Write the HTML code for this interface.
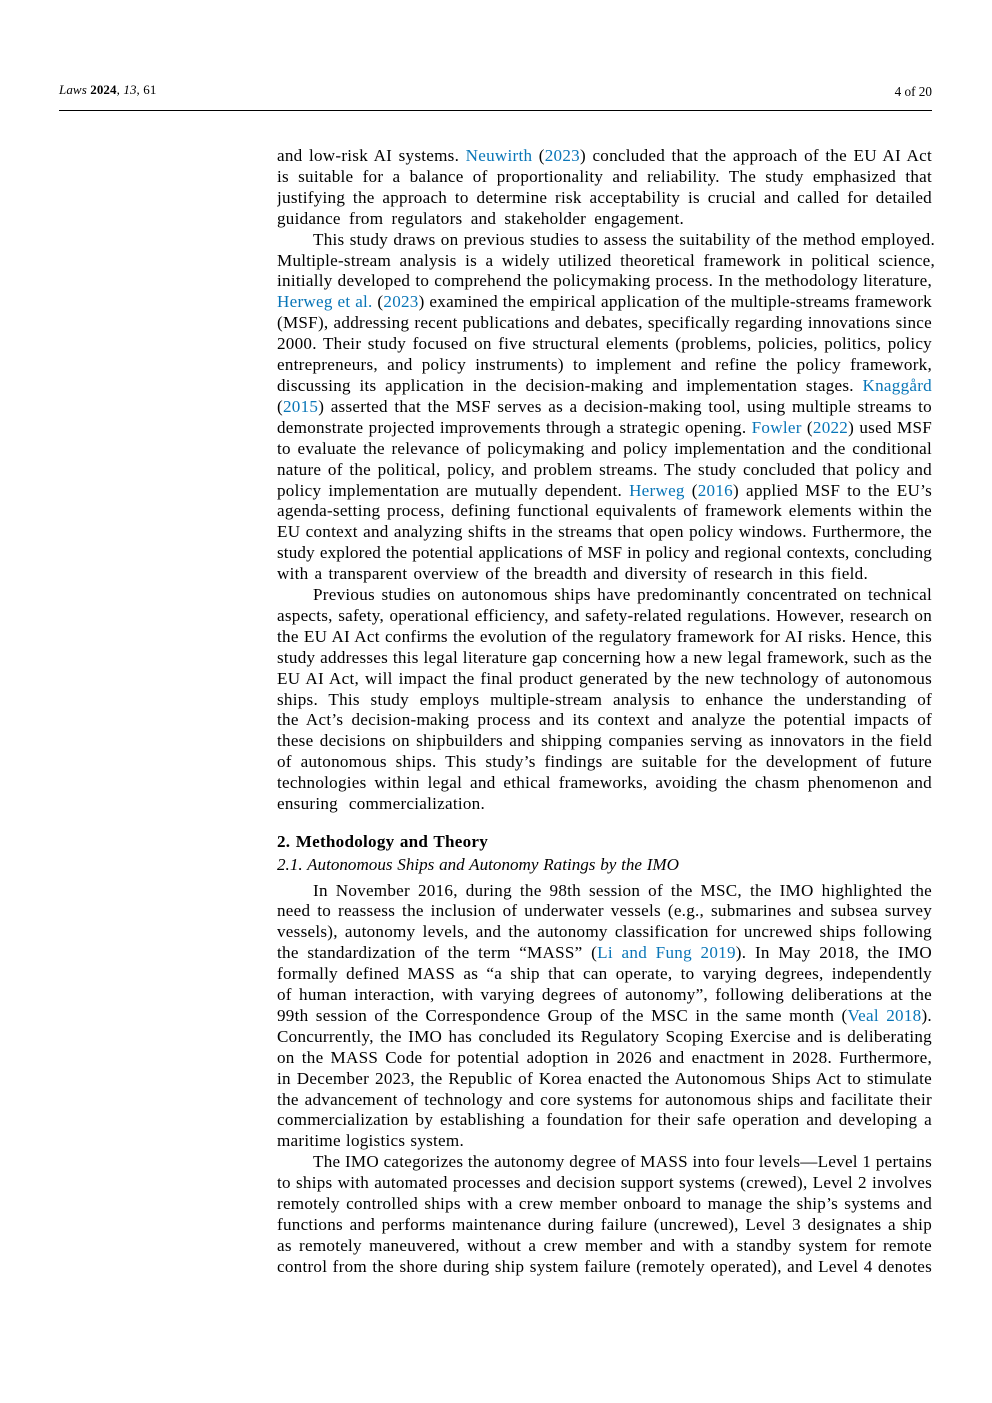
<!DOCTYPE html>
<html><head><meta charset="utf-8"><style>
html,body{margin:0;padding:0;background:#fff}
#p{position:relative;width:992px;height:1403px;overflow:hidden;font-family:"Liberation Serif",serif;color:#000}
.a{position:absolute;white-space:nowrap}
.b{position:absolute;left:277px;width:655px;font-size:17.1px;letter-spacing:.26px}
.b div{height:20.92px;line-height:20.92px;text-align:justify;text-align-last:justify;overflow:hidden}
.i{padding-left:36px}
a{color:#0875b7;text-decoration:none}
</style></head><body><div id="p">
<div class="a" style="left:59px;top:83px;font-size:13px;line-height:14px;letter-spacing:.1px"><i>Laws</i> <b>2024</b><i>, 13</i>, 61</div>
<div class="a" style="right:60px;top:85px;font-size:13.2px;line-height:14px">4 of 20</div>
<div class="a" style="left:59px;top:110px;width:873px;height:1px;background:#000"></div>
<div class="b" style="top:146px">
<div>and low-risk AI systems. <a>Neuwirth</a> (<a>2023</a>) concluded that the approach of the EU AI Act</div>
<div>is suitable for a balance of proportionality and reliability. The study emphasized that</div>
<div>justifying the approach to determine risk acceptability is crucial and called for detailed</div>
<div style="width:407px">guidance from regulators and stakeholder engagement.</div>
<div class="i" style="width:622px">This study draws on previous studies to assess the suitability of the method employed.</div>
<div style="width:658px">Multiple-stream analysis is a widely utilized theoretical framework in political science,</div>
<div>initially developed to comprehend the policymaking process. In the methodology literature,</div>
<div><a>Herweg et al.</a> (<a>2023</a>) examined the empirical application of the multiple-streams framework</div>
<div>(MSF), addressing recent publications and debates, specifically regarding innovations since</div>
<div>2000. Their study focused on five structural elements (problems, policies, politics, policy</div>
<div>entrepreneurs, and policy instruments) to implement and refine the policy framework,</div>
<div>discussing its application in the decision-making and implementation stages. <a>Knaggård</a></div>
<div>(<a>2015</a>) asserted that the MSF serves as a decision-making tool, using multiple streams to</div>
<div>demonstrate projected improvements through a strategic opening. <a>Fowler</a> (<a>2022</a>) used MSF</div>
<div>to evaluate the relevance of policymaking and policy implementation and the conditional</div>
<div>nature of the political, policy, and problem streams. The study concluded that policy and</div>
<div>policy implementation are mutually dependent. <a>Herweg</a> (<a>2016</a>) applied MSF to the EU’s</div>
<div>agenda-setting process, defining functional equivalents of framework elements within the</div>
<div>EU context and analyzing shifts in the streams that open policy windows. Furthermore, the</div>
<div style="letter-spacing:.16px">study explored the potential applications of MSF in policy and regional contexts, concluding</div>
<div style="width:591px">with a transparent overview of the breadth and diversity of research in this field.</div>
<div class="i" style="width:619px">Previous studies on autonomous ships have predominantly concentrated on technical</div>
<div>aspects, safety, operational efficiency, and safety-related regulations. However, research on</div>
<div>the EU AI Act confirms the evolution of the regulatory framework for AI risks. Hence, this</div>
<div>study addresses this legal literature gap concerning how a new legal framework, such as the</div>
<div>EU AI Act, will impact the final product generated by the new technology of autonomous</div>
<div>ships. This study employs multiple-stream analysis to enhance the understanding of</div>
<div>the Act’s decision-making process and its context and analyze the potential impacts of</div>
<div>these decisions on shipbuilders and shipping companies serving as innovators in the field</div>
<div>of autonomous ships. This study’s findings are suitable for the development of future</div>
<div>technologies within legal and ethical frameworks, avoiding the chasm phenomenon and</div>
<div style="width:208px">ensuring commercialization.</div>
</div>
<div class="a" style="left:277px;top:831px;font-size:17.1px;line-height:21px;font-weight:bold;letter-spacing:.25px;width:211px;text-align:justify;text-align-last:justify;white-space:normal">2. Methodology and Theory</div>
<div class="a" style="left:277px;top:854px;font-size:17.1px;line-height:21px;font-style:italic;width:402px;text-align:justify;text-align-last:justify;white-space:normal">2.1. Autonomous Ships and Autonomy Ratings by the IMO</div>
<div class="b" style="top:880.5px">
<div class="i" style="width:619px">In November 2016, during the 98th session of the MSC, the IMO highlighted the</div>
<div>need to reassess the inclusion of underwater vessels (e.g., submarines and subsea survey</div>
<div>vessels), autonomy levels, and the autonomy classification for uncrewed ships following</div>
<div>the standardization of the term “MASS” (<a>Li and Fung 2019</a>). In May 2018, the IMO</div>
<div>formally defined MASS as “a ship that can operate, to varying degrees, independently</div>
<div>of human interaction, with varying degrees of autonomy”, following deliberations at the</div>
<div>99th session of the Correspondence Group of the MSC in the same month (<a>Veal 2018</a>).</div>
<div>Concurrently, the IMO has concluded its Regulatory Scoping Exercise and is deliberating</div>
<div>on the MASS Code for potential adoption in 2026 and enactment in 2028. Furthermore,</div>
<div>in December 2023, the Republic of Korea enacted the Autonomous Ships Act to stimulate</div>
<div>the advancement of technology and core systems for autonomous ships and facilitate their</div>
<div>commercialization by establishing a foundation for their safe operation and developing a</div>
<div style="width:187px">maritime logistics system.</div>
<div class="i" style="width:619px">The IMO categorizes the autonomy degree of MASS into four levels—Level 1 pertains</div>
<div>to ships with automated processes and decision support systems (crewed), Level 2 involves</div>
<div>remotely controlled ships with a crew member onboard to manage the ship’s systems and</div>
<div>functions and performs maintenance during failure (uncrewed), Level 3 designates a ship</div>
<div>as remotely maneuvered, without a crew member and with a standby system for remote</div>
<div>control from the shore during ship system failure (remotely operated), and Level 4 denotes</div>
</div>
</div></body></html>
